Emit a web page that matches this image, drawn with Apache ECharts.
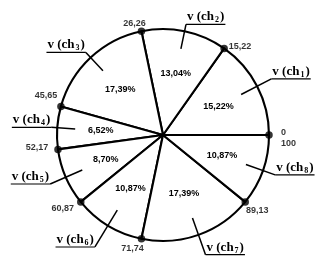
<!DOCTYPE html>
<html><head><meta charset="utf-8">
<script src="https://cdn.jsdelivr.net/npm/echarts@6/dist/echarts.min.js"></script>
<style>html,body{margin:0;padding:0;background:#fff}#c{width:322px;height:261px}</style>
</head><body><div id="c"></div>
<script>
// ---- data ----
const channels = ['1', '2', '3', '4', '5', '6', '7', '8'];
const shares = [15.22, 13.04, 17.39, 6.52, 8.70, 10.87, 17.39, 10.87];
const boundaryLabels = ['0\n100', '15,22', '26,26', '45,65', '52,17', '60,87', '71,74', '89,13'];

// ---- styling (not data) ----
const CENTER = [163, 135];
const R = 106;
const leaderLengths = [34, 25, 25, 24, 35, 43, 39, 31];
const boundaryLabelOffsets = [[12, 3], [16, -2], [-7, -8], [-15, -11], [-21, -2], [-18, 7], [-9, 10], [12, 9]];

let acc = 0;
const boundaries = shares.map(v => { const b = acc; acc += v; return +b.toFixed(2); });

const fmtPct = v => v.toFixed(2).replace('.', ',') + '%';
const numFont = { fontFamily: 'Liberation Sans', fontWeight: 'bold', fontSize: 9, color: '#000' };
const serif = 'Liberation Serif';

const chart = echarts.init(document.getElementById('c'), null, { renderer: 'canvas' });
chart.setOption({
  animation: false,
  backgroundColor: '#fff',
  polar: { center: CENTER, radius: R },
  angleAxis: { type: 'value', min: 0, max: 100, startAngle: 0, clockwise: false, show: false },
  radiusAxis: { type: 'value', min: 0, max: 1, show: false },
  series: [
    {
      type: 'pie', silent: true, z: 1,
      center: CENTER, radius: R, startAngle: 0, clockwise: false,
      avoidLabelOverlap: false,
      label: { show: false }, labelLine: { show: false },
      itemStyle: { color: '#fff', borderColor: '#000', borderWidth: 2.1 },
      data: shares.map((v, i) => ({ value: v, name: 'ch' + channels[i] }))
    },
    {
      type: 'pie', silent: true, z: 3,
      center: CENTER, radius: 119, startAngle: 0, clockwise: false,
      avoidLabelOverlap: false,
      itemStyle: { color: 'rgba(0,0,0,0)', borderWidth: 0 },
      label: Object.assign({ show: true, position: 'inside', formatter: p => fmtPct(p.value) }, numFont),
      labelLine: { show: false },
      data: shares.map((v, i) => ({ value: v, name: 'p' + channels[i] }))
    },
    {
      type: 'pie', silent: true, z: 3,
      center: CENTER, radius: 88, startAngle: 0, clockwise: false,
      avoidLabelOverlap: false,
      itemStyle: { color: 'rgba(0,0,0,0)', borderWidth: 0 },
      label: {
        show: true, position: 'outside', alignTo: 'none', distanceToLabelLine: 0,
        formatter: p => '{t|v (ch}{s|' + channels[p.dataIndex] + '}{t|)}\n{hr|}\n{sp| }',
        rich: {
          t: { fontFamily: serif, fontWeight: 'bold', fontSize: 13, lineHeight: 15, color: '#000', padding: [0, 1, 0, 1] },
          s: { fontFamily: serif, fontWeight: 'bold', fontSize: 8, lineHeight: 8, verticalAlign: 'bottom', color: '#000' },
          hr: { width: '100%', height: 0, borderColor: '#000', borderWidth: 1.1 },
          sp: { fontSize: 1, lineHeight: 15 }
        }
      },
      labelLine: { show: true, length2: 0, lineStyle: { color: '#000', width: 1.5 } },
      data: shares.map((v, i) => ({ value: v, name: 'l' + channels[i], labelLine: { length: leaderLengths[i], length2: 0 } }))
    },
    {
      type: 'scatter', coordinateSystem: 'polar', silent: true, z: 5,
      symbol: 'circle', symbolSize: 7.5,
      itemStyle: { color: '#000' },
      data: boundaries.map((b, i) => ({
        value: [1, b],
        label: Object.assign({
          show: true, position: 'inside', offset: boundaryLabelOffsets[i],
          formatter: boundaryLabels[i], lineHeight: 11,
          align: i === 0 ? 'left' : 'center'
        }, numFont)
      }))
    }
  ]
});
</script>
</body></html>
